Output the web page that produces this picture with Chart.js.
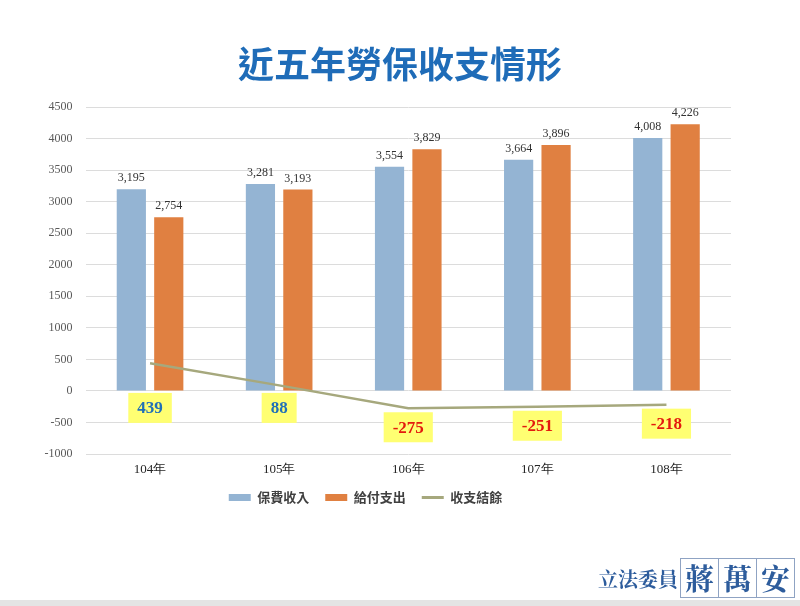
<!DOCTYPE html>
<html lang="zh-Hant">
<head>
  <meta charset="UTF-8">
  <title>近五年勞保收支情形</title>
  <style>
    body {
      margin: 0;
      padding: 0;
      background: #ffffff;
    }

    .wrap {
      position: relative;
      width: 800px;
      height: 606px;
      overflow: hidden;
    }

    h1 {
      position: absolute;
      left: 0;
      top: 38px;
      width: 800px;
      margin: 0;
      text-align: center;
      font-family: "Noto Sans CJK TC", sans-serif;
      font-weight: 700;
      font-size: 36px;
      line-height: 48px;
      color: #1f6cb8;
    }

    .sign {
      position: absolute;
      left: 598px;
      top: 558px;
      height: 40px;
      display: flex;
      align-items: center;
      font-family: "Noto Serif CJK TC", "Noto Sans CJK TC", serif;
      font-weight: 700;
      color: #2d5c9c;
    }

    .sign .role {
      font-size: 20px;
      margin-right: 3px;
    }

    .sign .name {
      width: 37px;
      height: 38px;
      border: 1px solid #8fa3c3;
      margin-left: -1px;
      font-size: 29px;
      line-height: 38px;
      text-align: center;
    }

    .band {
      position: absolute;
      left: 0;
      top: 600px;
      width: 800px;
      height: 6px;
      background: #e4e4e4;
    }

    canvas {
      position: absolute;
      left: 0;
      top: 0;
    }
  </style>
</head>
<body>
  <div class="wrap">
    <canvas id="chart" width="800" height="606"></canvas>
    <h1>近五年勞保收支情形</h1>
    <div class="sign">
      <span class="role">立法委員</span>
      <span class="name">蔣</span>
      <span class="name">萬</span>
      <span class="name">安</span>
    </div>
    <div class="band"></div>
  </div>

  <script src="https://cdn.jsdelivr.net/npm/chart.js"></script>
  <script>
    // 資料
    const years = ['104年', '105年', '106年', '107年', '108年'];
    const premiumIncome = [3195, 3281, 3554, 3664, 4008];   // 保費收入
    const benefitPayout = [2754, 3193, 3829, 3896, 4226];   // 給付支出
    const balance = [439, 88, -275, -251, -218];            // 收支結餘
    const seriesNames = ['保費收入', '給付支出', '收支結餘'];

    const serif = '"Liberation Serif", "DejaVu Serif", serif';
    const cjk = '"Noto Sans CJK TC", sans-serif';

    // 長條上方數字
    const barLabels = {
      id: 'barLabels',
      afterDatasetsDraw(chart) {
        const ctx = chart.ctx;
        ctx.save();
        ctx.font = '12px ' + serif;
        ctx.fillStyle = '#333333';
        ctx.textAlign = 'center';
        ctx.textBaseline = 'bottom';
        [0, 1].forEach(di => {
          const meta = chart.getDatasetMeta(di);
          meta.data.forEach((bar, i) => {
            const v = chart.data.datasets[di].data[i];
            ctx.fillText(v.toLocaleString('en-US'), bar.x, bar.y - 5);
          });
        });
        ctx.restore();
      }
    };

    // 收支結餘黃底標籤
    const balanceLabels = {
      id: 'balanceLabels',
      afterDatasetsDraw(chart) {
        const ctx = chart.ctx;
        const y = chart.scales.y;
        const meta = chart.getDatasetMeta(2);
        ctx.save();
        ctx.font = 'bold 17px ' + serif;
        ctx.textAlign = 'center';
        ctx.textBaseline = 'middle';
        meta.data.forEach((pt, i) => {
          const v = balance[i];
          const text = String(v);
          const w = ctx.measureText(text).width + 18;
          const h = 30;
          const cy = v >= 0 ? y.getPixelForValue(0) + 17 : pt.y + 19;
          ctx.fillStyle = '#ffff72';
          ctx.fillRect(pt.x - w / 2, cy - h / 2, w, h);
          ctx.fillStyle = v >= 0 ? '#2070b8' : '#e31a0e';
          ctx.fillText(text, pt.x, cy + 1);
        });
        ctx.restore();
      }
    };

    new Chart(document.getElementById('chart'), {
      type: 'bar',
      data: {
        labels: years,
        datasets: [
          {
            label: seriesNames[0],
            data: premiumIncome,
            backgroundColor: '#94b4d3',
            categoryPercentage: 0.58,
            barPercentage: 0.78,
            order: 1
          },
          {
            label: seriesNames[1],
            data: benefitPayout,
            backgroundColor: '#e08041',
            categoryPercentage: 0.58,
            barPercentage: 0.78,
            order: 1
          },
          {
            type: 'line',
            label: seriesNames[2],
            data: balance,
            borderColor: '#a6a87d',
            backgroundColor: '#a6a87d',
            borderWidth: 2.5,
            pointRadius: 0,
            tension: 0,
            order: 0
          }
        ]
      },
      options: {
        responsive: false,
        animation: false,
        layout: {
          padding: { left: 0, right: 69, top: 107, bottom: 92 }
        },
        plugins: {
          title: { display: false },
          tooltip: { enabled: false },
          legend: {
            position: 'bottom',
            labels: {
              usePointStyle: true,
              pointStyleWidth: 22,
              boxHeight: 7,
              padding: 16,
              color: '#404040',
              font: { family: cjk, size: 13, weight: 'bold' },
              sort: (a, b) => a.datasetIndex - b.datasetIndex,
              generateLabels(chart) {
                const items = Chart.defaults.plugins.legend.labels.generateLabels(chart);
                items.forEach(it => {
                  if (it.datasetIndex === 2) {
                    it.pointStyle = 'line';
                    it.lineWidth = 3;
                    it.strokeStyle = '#a6a87d';
                  } else {
                    it.pointStyle = 'rect';
                    it.lineWidth = 0;
                  }
                });
                return items;
              }
            }
          }
        },
        scales: {
          x: {
            grid: { display: false, drawTicks: false },
            border: { display: false },
            ticks: {
              padding: 8,
              color: '#262626',
              font: { family: serif, size: 13 }
            },
            afterFit(scale) { scale.height = 21; }
          },
          y: {
            min: -1000,
            max: 4500,
            grid: { color: '#dcdcdc', drawTicks: false },
            border: { display: false },
            ticks: {
              stepSize: 500,
              padding: 13,
              color: '#595959',
              font: { family: serif, size: 12 },
              callback: v => String(v)
            },
            afterFit(scale) { scale.width = 85.5; }
          }
        }
      },
      plugins: [barLabels, balanceLabels]
    });
  </script>
</body>
</html>
